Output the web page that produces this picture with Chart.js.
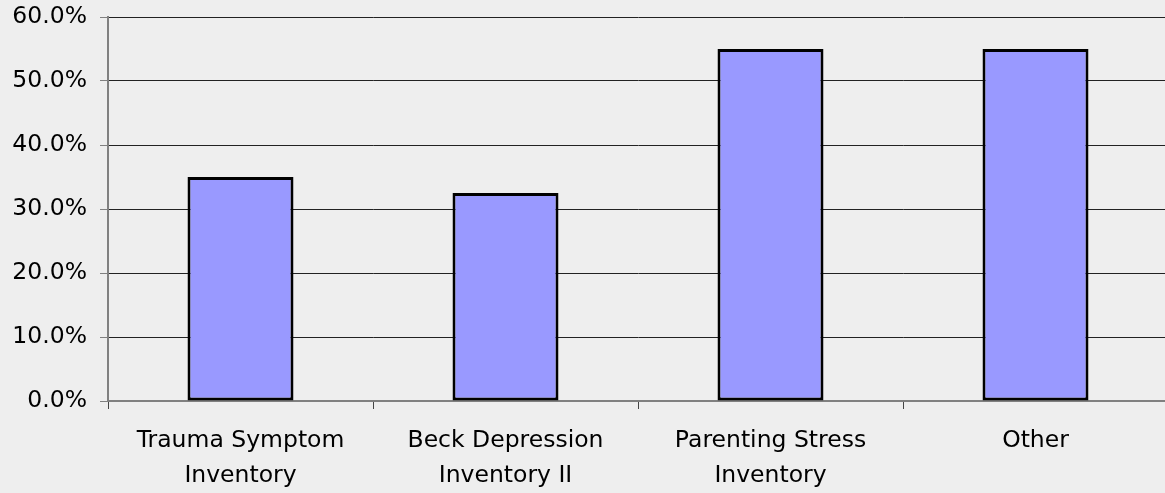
<!DOCTYPE html>
<html>
<head>
<meta charset="utf-8">
<script src="https://cdn.jsdelivr.net/npm/chart.js@4/dist/chart.umd.min.js"></script>
<style>
  html, body { margin: 0; padding: 0; background: #eeeeee; overflow: hidden; }
  #wrap { width: 1168px; height: 493px; }
</style>
</head>
<body>
<div id="wrap"><canvas id="barChart"></canvas></div>
<script>
// Chart data
const categories = [
  ['Trauma Symptom', 'Inventory'],
  ['Beck Depression', 'Inventory II'],
  ['Parenting Stress', 'Inventory'],
  'Other'
];
const percentValues = [35.0, 32.5, 55.0, 55.0];
const yMax = 60;
const yStep = 10;

const ctx = document.getElementById('barChart').getContext('2d');

window.barChart = new Chart(ctx, {
  type: 'bar',
  data: {
    labels: categories,
    datasets: [{
      data: percentValues,
      backgroundColor: '#9999ff',
      borderColor: '#000000',
      borderWidth: 3,
      borderSkipped: false,
      barPercentage: 0.4,
      categoryPercentage: 1.0
    }]
  },
  options: {
    responsive: true,
    maintainAspectRatio: false,
    animation: false,
    layout: { padding: { top: 17, left: 0, right: 0, bottom: 0 } },
    plugins: {
      legend: { display: false },
      tooltip: { enabled: false }
    },
    scales: {
      x: {
        grid: {
          display: true,
          drawOnChartArea: false,
          drawTicks: true,
          tickLength: 8,
          tickColor: '#444444',
          offset: true
        },
        border: { display: true, color: '#808080', width: 2 },
        ticks: {
          color: '#000000',
          padding: 14,
          maxRotation: 0,
          autoSkip: false,
          font: { family: 'DejaVu Sans', size: 23.5, lineHeight: 1.5 }
        },
        afterFit: function(scale) {
          scale.height = 92;
          scale.paddingLeft = 0;
          scale.paddingRight = 0;
        }
      },
      y: {
        min: 0,
        max: yMax,
        grid: {
          color: function(context) {
            return context.tick && context.tick.value === 0 ? '#808080' : '#222222';
          },
          lineWidth: 1,
          drawTicks: true,
          tickLength: 8,
          tickColor: '#808080'
        },
        border: { display: true, color: '#808080', width: 2 },
        ticks: {
          stepSize: yStep,
          color: '#000000',
          padding: 13,
          font: { family: 'DejaVu Sans', size: 23.5 },
          callback: function(value) {
            return value.toFixed(1) + '%';
          }
        },
        afterFit: function(scale) {
          scale.width = 108;
          scale.paddingTop = 0;
          scale.paddingBottom = 0;
        }
      }
    }
  }
});
</script>
</body>
</html>
